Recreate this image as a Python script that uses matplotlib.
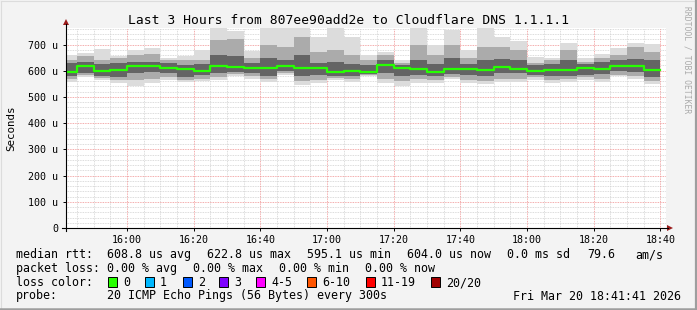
import matplotlib
matplotlib.use('Agg')
import matplotlib.pyplot as plt
from matplotlib.patches import Rectangle, Polygon
from matplotlib.lines import Line2D

#----------------------------------------------------------------------
# data (time in minutes after 15:00, rtt in microseconds)

bin_start = list(range(40, 220, 5))

rtt_max = [660, 667, 683, 656, 679, 686, 648, 656, 679, 780, 753, 677,
           780, 762, 780, 728, 780, 730, 660, 673, 641, 780, 698, 756,
           679, 780, 728, 715, 654, 648, 707, 648, 664, 686, 705, 702]
rtt_hi2 = [640, 656, 640, 650, 660, 662, 640, 640, 640, 718, 720, 650,
           700, 690, 730, 670, 680, 660, 640, 660, 630, 700, 660, 700,
           650, 690, 690, 680, 630, 640, 680, 635, 650, 660, 690, 670]
rtt_hi3 = [628, 635, 625, 630, 635, 632, 628, 622, 625, 660, 655, 630,
           650, 640, 660, 630, 635, 625, 620, 640, 620, 640, 625, 650,
           625, 640, 645, 640, 620, 625, 640, 625, 635, 640, 645, 640]
rtt_median = [595.1, 619, 600, 604, 618, 618, 611, 608, 600, 619, 615, 612,
              612, 619, 612, 612, 597, 600, 597, 622.8, 612, 608, 597, 607,
              608, 604, 616, 607, 600, 603, 603, 611, 608, 618, 618, 604.0]
rtt_lo3 = [578, 590, 580, 575, 590, 595, 590, 575, 585, 590, 595, 590,
           580, 600, 580, 585, 580, 578, 588, 590, 580, 585, 580, 588,
           585, 580, 590, 590, 585, 578, 580, 585, 588, 600, 595, 575]
rtt_lo2 = [568, 582, 572, 565, 565, 570, 575, 565, 570, 575, 588, 580,
           568, 590, 560, 565, 572, 568, 584, 568, 560, 568, 565, 575,
           565, 560, 570, 570, 575, 565, 568, 575, 570, 585, 578, 560]
rtt_min = [558, 575, 565, 552, 543, 555, 565, 558, 561, 563, 580, 570,
           557, 582, 546, 552, 565, 558, 580, 552, 542, 555, 555, 567,
           552, 548, 558, 558, 565, 552, 558, 565, 558, 578, 567, 550]

x_ticks = [60, 80, 100, 120, 140, 160, 180, 200, 220]
x_labels = ['16:00', '16:20', '16:40', '17:00', '17:20', '17:40',
            '18:00', '18:20', '18:40']
y_ticks = [0, 100, 200, 300, 400, 500, 600, 700]
y_labels = ['0', '100 u', '200 u', '300 u', '400 u', '500 u', '600 u', '700 u']

loss_labels = ['0', '1', '2', '3', '4-5', '6-10', '11-19', '20/20']
loss_colors = ['#26ff00', '#00b8ff', '#0059ff', '#7e00ff', '#ff00ff',
               '#ff5500', '#ff0000', '#a10000']

#----------------------------------------------------------------------

W, H = 697, 310
MONO = 'DejaVu Sans Mono'


def fx(x):
	return x / W


def fy(y):
	return 1 - y / H


def main():
	fig = plt.figure(figsize=(W / 100, H / 100), dpi=100, facecolor='#f3f3f3')
	ax = fig.add_axes([fx(66), fy(228), 600 / W, 200 / H])
	ax.set_facecolor('white')
	ax.set_xlim(41 + 41 / 60, 221 + 41 / 60)
	ax.set_ylim(0, 763)
	for s in ax.spines.values():
		s.set_visible(False)

	# smoke
	bands = [(rtt_min, rtt_max, '#dcdcdc'),
	         (rtt_lo2, rtt_hi2, '#ababab'),
	         (rtt_lo3, rtt_hi3, '#646464')]
	for lo, hi, col in bands:
		h = [b - a for a, b in zip(lo, hi)]
		ax.bar(bin_start, h, bottom=lo, width=5, align='edge', color=col,
		       linewidth=0, zorder=1)

	# grid (below the smoke)
	for m in range(45, 221, 5):
		if m not in x_ticks:
			ax.axvline(m, color='#d0d0d0', lw=0.6, ls=(0, (1, 1)), zorder=0.5)
	for v in range(20, 763, 20):
		if v not in y_ticks:
			ax.axhline(v, color='#d0d0d0', lw=0.6, ls=(0, (1, 1)), zorder=0.5)
	for m in x_ticks:
		ax.axvline(m, color='#f09090', lw=0.6, ls=(0, (1, 1)), zorder=0.6)
	for v in y_ticks[1:]:
		ax.axhline(v, color='#f09090', lw=0.6, ls=(0, (1, 1)), zorder=0.6)

	# median line
	ax.step(bin_start + [220], rtt_median + [rtt_median[-1]], where='post',
	        color=loss_colors[0], lw=1.6, zorder=4)

	ax.set_xticks(x_ticks)
	ax.set_xticklabels(x_labels)
	ax.set_yticks(y_ticks)
	ax.set_yticklabels(y_labels)
	ax.tick_params(axis='both', length=2, width=0.7, color='black',
	               labelsize=7.2, direction='out')
	ax.tick_params(axis='x', pad=3.2)
	ax.tick_params(axis='y', pad=3.5)
	for lab in ax.get_xticklabels() + ax.get_yticklabels():
		lab.set_fontfamily(MONO)

	# axes with arrows
	fig.add_artist(Line2D([fx(62), fx(668)], [fy(228), fy(228)], color='black', lw=0.8))
	fig.add_artist(Line2D([fx(66), fx(66)], [fy(231), fy(24)], color='black', lw=0.8))
	fig.add_artist(Polygon([(fx(667), fy(225)), (fx(673), fy(228)), (fx(667), fy(231))],
	                       closed=True, color='#9b1c1c', lw=0))
	fig.add_artist(Polygon([(fx(63), fy(25)), (fx(66), fy(19)), (fx(69), fy(25))],
	                       closed=True, color='#9b1c1c', lw=0))

	# titles
	fig.text(fx(348), fy(24), 'Last 3 Hours from 807ee90add2e to Cloudflare DNS 1.1.1.1',
	         family=MONO, fontsize=9.4, ha='center', va='baseline')
	fig.text(fx(11), fy(128), 'Seconds', family=MONO, fontsize=7.8,
	         rotation=90, ha='center', va='center')
	fig.text(fx(687), fy(6), 'RRDTOOL / TOBI OETIKER', family=MONO, fontsize=5.8,
	         rotation=270, ha='center', va='top', color='#aaaaaa')

	# legend
	fs = 8.4
	row1 = [(16, 'median rtt:'), (107, '608.8 us avg'), (207, '622.8 us max'),
	        (307, '595.1 us min'), (407, '604.0 us now'), (507, '0.0 ms sd'),
	        (587, '79.6'), (635, 'am/s')]
	for x, s in row1:
		fig.text(fx(x), fy(258), s, family=MONO, fontsize=fs, va='baseline')
	row2 = [(16, 'packet loss:'), (107, '0.00 % avg'), (193, '0.00 % max'),
	        (279, '0.00 % min'), (365, '0.00 % now')]
	for x, s in row2:
		fig.text(fx(x), fy(272), s, family=MONO, fontsize=fs, va='baseline')

	fig.text(fx(16), fy(286), 'loss color:', family=MONO, fontsize=fs, va='baseline')
	box_x = [108, 145, 183, 219, 256, 307, 366, 431]
	for bx, lab, col in zip(box_x, loss_labels, loss_colors):
		fig.add_artist(Rectangle((fx(bx), fy(286.7)), 9 / W, 9.4 / H, facecolor=col,
		                         edgecolor='black', lw=0.7))
		fig.text(fx(bx + 15), fy(286), lab, family=MONO, fontsize=fs, va='baseline')

	fig.text(fx(16), fy(299.5), 'probe:', family=MONO, fontsize=fs, va='baseline')
	fig.text(fx(107), fy(299.5), '20 ICMP Echo Pings (56 Bytes) every 300s',
	         family=MONO, fontsize=fs, va='baseline')
	fig.text(fx(513), fy(299.5), 'Fri Mar 20 18:41:41 2026',
	         family=MONO, fontsize=fs, va='baseline')

	# frame
	fig.add_artist(Line2D([fx(0.5), fx(696.5)], [fy(0.5), fy(0.5)], color='#dcdcdc', lw=0.8))
	fig.add_artist(Line2D([fx(0.5), fx(0.5)], [fy(0.5), fy(309.5)], color='#dcdcdc', lw=0.8))
	fig.add_artist(Line2D([fx(695.5), fx(695.5)], [fy(0), fy(310)], color='#9e9e9e', lw=1.6))
	fig.add_artist(Line2D([fx(0), fx(697)], [fy(308.8), fy(308.8)], color='#9e9e9e', lw=1.8))

	fig.savefig('out.png', dpi=100, facecolor=fig.get_facecolor())


if __name__ == '__main__':
	main()
